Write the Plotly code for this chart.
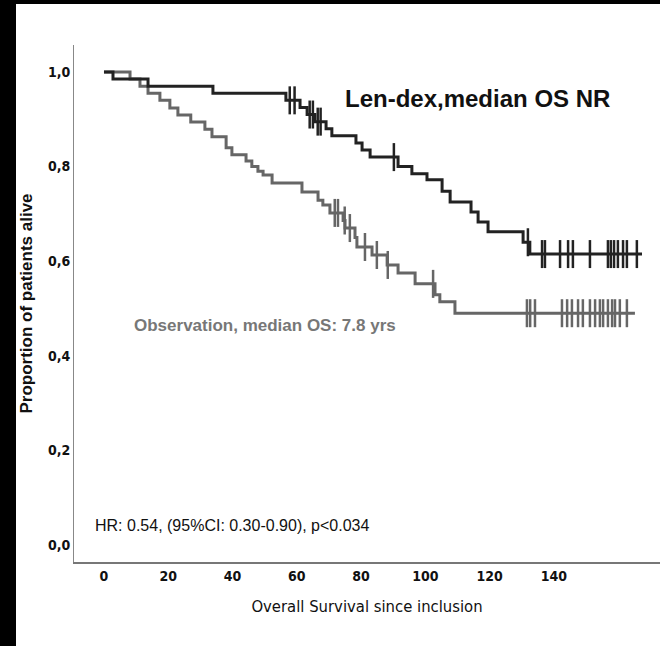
import numpy as np
import plotly.graph_objects as go

# ---- data ----
lendex_times = [0, 2.8, 13.7, 33.9, 56.6, 61.0, 63.2, 65.6, 69.1, 70.9, 78.4, 80.3, 82.8,
                91.5, 95.8, 100.5, 105.2, 107.7, 114.2, 116.4, 119.5, 130.4, 132.5]
lendex_surv = [1.0, 0.985, 0.970, 0.955, 0.940, 0.925, 0.910, 0.895, 0.880, 0.865, 0.850, 0.835, 0.820,
               0.800, 0.785, 0.772, 0.748, 0.725, 0.704, 0.683, 0.662, 0.640, 0.615]
lendex_end = 167.4
lendex_censor = [57.8, 59.3, 64.0, 65.0, 66.5, 67.4, 90.2, 131.9, 136.3, 137.2, 141.9, 144.4,
                 145.9, 151.2, 156.8, 157.7, 158.7, 159.9, 161.5, 162.7, 165.8]

obs_times = [0, 8.1, 11.2, 13.7, 17.4, 20.5, 23.0, 27.0, 31.4, 33.6, 38.0, 39.8, 44.2, 46.0, 47.9,
             49.5, 52.3, 61.6, 66.6, 68.1, 70.3, 74.4, 75.0, 78.1, 78.7, 83.4, 88.1, 91.5,
             96.8, 103.0, 104.5, 109.2]
obs_surv = [1.0, 0.985, 0.970, 0.955, 0.940, 0.924, 0.909, 0.894, 0.879, 0.863, 0.840, 0.825,
            0.812, 0.800, 0.790, 0.782, 0.765, 0.746, 0.729, 0.719, 0.702, 0.686, 0.670, 0.650,
            0.630, 0.613, 0.592, 0.575, 0.552, 0.529, 0.514, 0.490]
obs_end = 165.2
obs_censor = [71.8, 72.8, 74.9, 76.5, 81.2, 84.9, 88.3, 102.4, 131.6, 132.6, 134.1, 142.5,
              144.1, 145.6, 147.5, 149.0, 151.2, 152.8, 154.3, 155.3, 156.8, 158.1, 159.0,
              160.5, 162.7]

x_ticks = [0, 20, 40, 60, 80, 100, 120, 140]
y_ticks = [0.0, 0.2, 0.4, 0.6, 0.8, 1.0]
y_ticklabels = ["0,0", "0,2", "0,4", "0,6", "0,8", "1,0"]


def step_value(times, surv, t):
    idx = np.searchsorted(np.asarray(times), t, side="right") - 1
    return np.asarray(surv)[idx]


BLACK = "#222222"
GRAY = "#666666"

fig = go.Figure()
for times, surv, end, cens, col in [
    (obs_times, obs_surv, obs_end, obs_censor, GRAY),
    (lendex_times, lendex_surv, lendex_end, lendex_censor, BLACK),
]:
    xs = list(times) + [end]
    ys = list(surv) + [surv[-1]]
    fig.add_trace(go.Scatter(x=xs, y=ys, mode="lines", line=dict(color=col, width=3, shape="hv"),
                             showlegend=False, hoverinfo="skip"))
    fig.add_trace(go.Scatter(x=cens, y=step_value(times, surv, cens), mode="markers",
                             marker=dict(symbol="line-ns", size=20, line=dict(color=col, width=2.5)),
                             showlegend=False, hoverinfo="skip"))

tick_font = dict(family="Liberation Sans Narrow, DejaVu Sans Condensed, Liberation Sans", size=14,
                 color="#111111", weight="bold")

fig.update_xaxes(range=[-9.33, 173.0], tickvals=x_ticks, ticktext=[str(v) for v in x_ticks],
                 showgrid=False, zeroline=False, showline=True, linecolor="#777777", linewidth=2,
                 ticks="", tickfont=tick_font,
                 title=dict(text="Overall Survival since inclusion",
                            font=dict(family="Liberation Sans Narrow, DejaVu Sans Condensed, Liberation Sans",
                                      size=16.5, color="#111111"), standoff=18))
fig.update_yaxes(range=[-0.036, 1.057], tickvals=y_ticks, ticktext=y_ticklabels,
                 showgrid=False, zeroline=False, showline=True, linecolor="#888888", linewidth=1,
                 ticks="", tickfont=tick_font,
                 title=dict(text="<b>Proportion of patients alive</b>",
                            font=dict(family="Liberation Sans, Arial", size=17, color="#111111"),
                            standoff=10))

fig.add_annotation(x=74.4, y=0.943, xref="x", yref="y", text="<b>Len-dex,median OS NR</b>",
                   showarrow=False, xanchor="left", yanchor="middle",
                   font=dict(family="Liberation Sans, Arial", size=24, color="#111111"))
fig.add_annotation(x=8.8, y=0.463, xref="x", yref="y", text="<b>Observation, median OS: 7.8 yrs</b>",
                   showarrow=False, xanchor="left", yanchor="middle",
                   font=dict(family="Liberation Sans, Arial", size=17, color="#777777"))
fig.add_annotation(x=-3.4, y=0.042, xref="x", yref="y", text="HR: 0.54, (95%CI: 0.30-0.90), p<0.034",
                   showarrow=False, xanchor="left", yanchor="middle",
                   font=dict(family="Liberation Sans, Arial", size=16, color="#111111"))

# black frame strips at left and top of the picture
L, R, T, B = 74, 0, 45, 84
W, H = 660, 646
pw, ph = W - L - R, H - T - B


def px_x(p):
    return (p - L) / pw


def px_y(p):
    return (H - B - p) / ph


fig.add_shape(type="rect", xref="paper", yref="paper", x0=px_x(-5), x1=px_x(16),
              y0=px_y(H + 5), y1=px_y(-5), fillcolor="black", line=dict(width=0), layer="above")
fig.add_shape(type="rect", xref="paper", yref="paper", x0=px_x(-5), x1=px_x(W + 5),
              y0=px_y(4), y1=px_y(-5), fillcolor="black", line=dict(width=0), layer="above")

fig.update_layout(width=W, height=H, margin=dict(l=L, r=R, t=T, b=B),
                  paper_bgcolor="white", plot_bgcolor="white")

fig.write_html("out.html")
